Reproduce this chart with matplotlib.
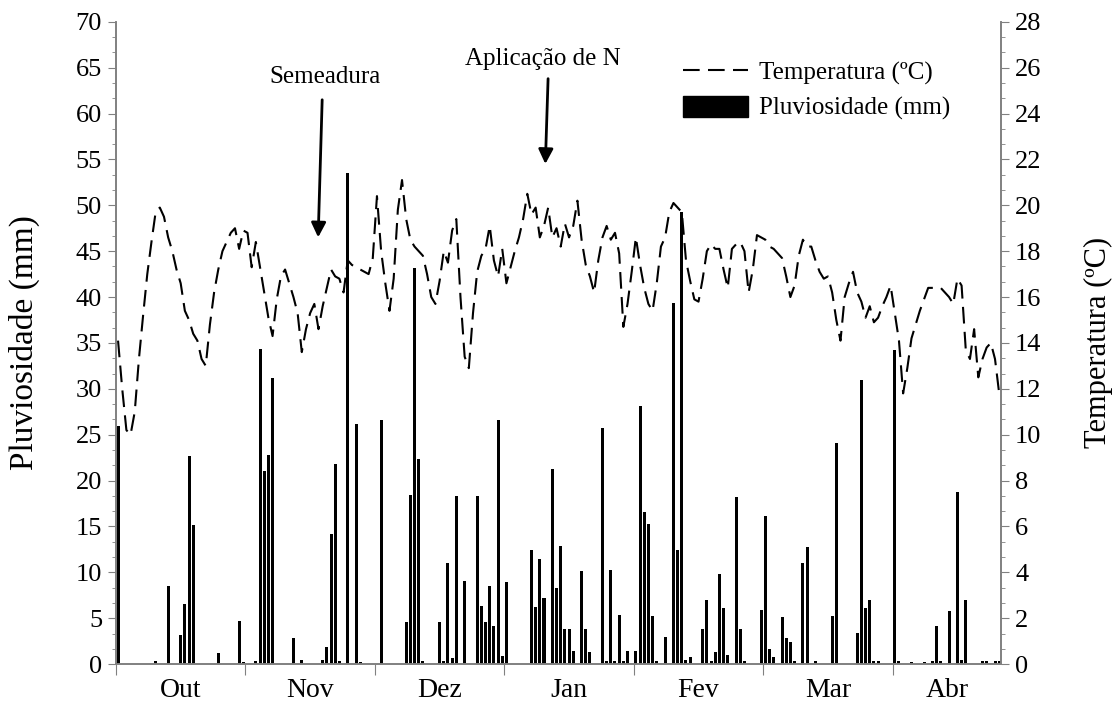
import numpy as np
import matplotlib
matplotlib.use("Agg")
import matplotlib.pyplot as plt
from matplotlib.lines import Line2D
from matplotlib.patches import Patch
from matplotlib.ticker import MultipleLocator

plt.rcParams['font.family'] = ['Liberation Serif', 'DejaVu Serif']

# daily series, 1 Oct -> end of Apr (212 days)
n_days = 212
months = ['Out', 'Nov', 'Dez', 'Jan', 'Fev', 'Mar', 'Abr']

# rainfall (mm): day index -> value, all other days zero
rain_days = [0, 9, 12, 15, 16, 17, 18, 24, 29, 30,
             33, 34, 35, 36, 37, 42, 44, 49, 50, 51, 52, 53, 55, 57, 58,
             63, 69, 70, 71, 72, 73, 77, 78, 79, 80, 81, 83, 86, 87, 88, 89, 90, 91, 92, 93,
             99, 100, 101, 102, 104, 105, 106, 107, 108, 109, 111, 112, 113, 116, 117, 118,
             119, 120, 121, 122, 124, 125, 126, 127, 128, 129, 131, 133, 134, 135, 136, 137,
             140, 141, 142, 143, 144, 145, 146, 148, 149, 150, 154, 155, 156, 157, 159, 160,
             161, 162, 164, 165, 167, 171, 172, 177, 178, 179, 180, 181, 182, 186, 187, 190,
             193, 195, 196, 197, 199, 201, 202, 203, 207, 208, 210, 211]
rain_vals = [26.0, 0.3, 8.5, 3.2, 6.5, 22.7, 15.2, 1.2, 4.7, 0.2,
             0.3, 34.3, 21.0, 22.8, 31.2, 2.8, 0.4, 0.5, 1.9, 14.2, 21.8, 0.3, 53.5, 26.2, 0.2,
             26.6, 4.6, 18.4, 43.2, 22.4, 0.3, 4.6, 0.3, 11.0, 0.7, 18.3, 9.1, 18.3, 6.3, 4.6, 8.5, 4.2, 26.6, 0.9, 9.0,
             12.4, 6.2, 11.4, 7.2, 21.3, 8.3, 12.9, 3.8, 3.8, 1.4, 10.1, 3.8, 1.3, 25.7, 0.3, 10.2,
             0.3, 5.4, 0.3, 1.4, 1.4, 28.1, 16.6, 15.3, 5.2, 0.3, 3.0, 39.3, 12.4, 49.3, 0.5, 0.8,
             3.8, 7.0, 0.3, 1.3, 9.8, 6.1, 1.0, 18.2, 3.8, 0.3, 5.9, 16.1, 1.6, 0.8, 5.1, 2.8,
             2.4, 0.3, 11.0, 12.8, 0.3, 5.2, 24.1, 3.4, 31.0, 6.1, 7.0, 0.3, 0.3, 34.2, 0.3, 0.2,
             0.2, 0.3, 4.2, 0.3, 5.8, 18.7, 0.5, 7.0, 0.3, 0.3, 0.3, 0.3]

# mean daily temperature (C)
temp = [14.1, 12.0, 10.2, 10.0, 11.0, 13.3, 15.2, 17.0, 18.4, 19.7,
        19.9, 19.5, 18.6, 18.0, 17.2, 16.6, 15.4, 15.0, 14.4, 14.1,
        13.3, 13.0, 14.8, 16.2, 17.2, 18.0, 18.4, 18.8, 19.0, 18.1,
        18.9, 18.8, 17.3, 18.4, 17.3, 16.2, 15.1, 14.3, 15.9, 16.9,
        17.2, 16.6, 16.0, 15.3, 13.6, 14.6, 15.3, 15.7, 14.6, 15.6,
        16.4, 17.2, 16.9, 16.8, 16.2, 17.6, 17.4, 17.3, 17.2, 17.1,
        17.0, 17.7, 20.4, 18.0, 16.6, 15.4, 16.8, 19.8, 21.1, 19.4,
        18.5, 18.2, 18.0, 17.8, 17.0, 16.0, 15.7, 16.7, 18.0, 17.5,
        18.9, 19.4, 16.0, 13.4, 12.9, 15.3, 17.1, 17.8, 18.1, 19.1,
        17.6, 16.9, 18.1, 16.6, 17.3, 18.0, 18.6, 19.4, 20.5, 19.6,
        19.9, 18.6, 19.1, 19.9, 18.6, 19.0, 18.2, 19.2, 18.6, 19.1,
        20.2, 18.5, 17.4, 16.9, 16.2, 17.6, 18.6, 19.1, 18.5, 18.8,
        17.9, 14.7, 15.7, 17.1, 18.6, 17.4, 16.4, 15.7, 15.4, 16.6,
        18.2, 18.6, 19.7, 20.1, 19.9, 19.7, 17.6, 16.7, 15.9, 15.8,
        16.8, 18.0, 18.3, 18.1, 18.1, 17.2, 16.4, 18.1, 18.3, 18.4,
        18.0, 16.2, 17.2, 18.7, 18.6, 18.5, 18.2, 18.1, 17.9, 17.7,
        16.9, 16.0, 16.5, 17.8, 18.5, 18.2, 18.2, 17.6, 17.1, 16.8,
        16.9, 16.2, 15.0, 14.1, 16.0, 16.6, 17.1, 16.2, 15.8, 15.1,
        15.6, 14.9, 15.1, 15.6, 16.0, 16.5, 15.3, 14.1, 11.8, 12.9,
        14.2, 14.8, 15.4, 15.9, 16.4, 16.4, 16.4, 16.4, 16.2, 16.0,
        15.7, 16.8, 16.5, 13.7, 13.3, 14.6, 12.5, 13.3, 13.8, 14.0,
        13.3, 11.8]

days = np.arange(n_days)
rain = np.zeros(n_days)
rain[rain_days] = rain_vals

dash = (0, (8, 4))

fig = plt.figure(figsize=(11.15, 7.02), dpi=100)
ax = fig.add_axes([0.104, 0.054, 0.794, 0.915])
ax2 = ax.twinx()

ax.bar(days, rain, width=0.72, color='black', zorder=2)
ax2.plot(days, temp, color='black', lw=1.5, linestyle=dash)

ax.set_xlim(-0.5, n_days - 0.5)
ax.set_ylim(0, 70)
ax2.set_ylim(0, 28)

ax.yaxis.set_major_locator(MultipleLocator(5))
ax.yaxis.set_minor_locator(MultipleLocator(5 / 3))
ax2.yaxis.set_major_locator(MultipleLocator(2))
ax2.yaxis.set_minor_locator(MultipleLocator(2 / 3))

bounds = [-0.5 + 31 * i for i in range(7)]
centers = [(bounds[i] + (bounds[i + 1] if i < 6 else n_days - 0.5)) / 2 for i in range(7)]
ax.set_xticks(bounds)
ax.set_xticklabels([])
ax.set_xticks(centers, minor=True)
ax.set_xticklabels(months, minor=True)
ax.tick_params(axis='x', which='major', direction='out', length=8, color='#808080')
ax.tick_params(axis='x', which='minor', length=0, pad=10, labelsize=20)

for a in (ax, ax2):
    a.spines['top'].set_visible(False)
    for s in ('left', 'right', 'bottom'):
        a.spines[s].set_color('#808080')
        a.spines[s].set_linewidth(1.2)
    a.tick_params(axis='y', which='major', length=6, color='#808080', labelsize=19, pad=4)
    a.tick_params(axis='y', which='minor', length=3, color='#808080')

ax.set_ylabel('Pluviosidade (mm)', fontsize=24)
ax.yaxis.set_label_coords(-0.086, 0.5)
ax2.set_ylabel('Temperatura (ºC)', fontsize=22)
ax2.yaxis.set_label_coords(1.093, 0.5)

ax.annotate('', xy=(47.9, 46.2), xytext=(48.9, 61.8),
            arrowprops=dict(arrowstyle='-|>', color='black', lw=2, mutation_scale=22))
ax.text(49.6, 64.0, 'Semeadura', ha='center', va='center', fontsize=18)
ax.annotate('', xy=(102.3, 54.2), xytext=(103.0, 64.1),
            arrowprops=dict(arrowstyle='-|>', color='black', lw=2, mutation_scale=22))
ax.text(101.8, 65.9, 'Aplicação de N', ha='center', va='center', fontsize=18)

handles = [Line2D([0], [0], color='black', lw=1.5, linestyle=dash),
           Patch(facecolor='black', edgecolor='black')]
ax.legend(handles, ['Temperatura (ºC)', 'Pluviosidade (mm)'], loc='upper left',
          bbox_to_anchor=(0.615, 0.975), frameon=False, fontsize=18,
          handlelength=2.6, handleheight=0.95, handletextpad=0.45, labelspacing=0.42)

fig.savefig('out.png', dpi=100)
